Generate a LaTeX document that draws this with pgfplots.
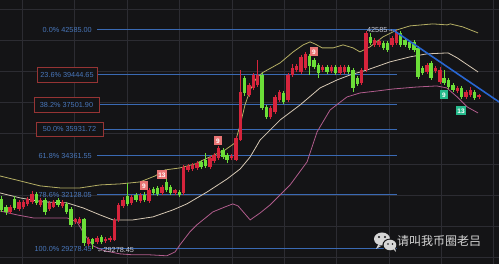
\documentclass[border=0pt]{standalone}
\usepackage{pgfplots}
\usepackage{pgfplotstable}
\pgfplotsset{compat=1.18}
\usepackage{fontspec}
\setmainfont{Liberation Sans}
\newfontfamily\cjk{Noto Sans CJK SC}
\newfontfamily\djv{DejaVu Sans}
\definecolor{bg}{RGB}{20,20,22}
\definecolor{gridc}{RGB}{44,44,50}
\definecolor{fibc}{RGB}{58,106,180}
\definecolor{fibt}{RGB}{72,118,186}
\definecolor{boxr}{RGB}{150,52,52}
\definecolor{upperc}{RGB}{180,174,100}
\definecolor{midc}{RGB}{214,200,180}
\definecolor{lowerc}{RGB}{176,92,140}
\definecolor{trendc}{RGB}{40,102,210}
\definecolor{upc}{RGB}{214,36,60}
\definecolor{downc}{RGB}{108,222,56}
\definecolor{tdred}{RGB}{232,116,116}
\definecolor{tdgreen}{RGB}{38,186,140}
\definecolor{lbl}{RGB}{200,200,208}
\definecolor{wm}{RGB}{214,214,214}

\pgfplotstableread{
i o h l c
0 31895 32060 31194 31300
1 31462 31570 31035 31194
2 31194 31570 31088 31462
3 31895 32060 31300 31408
4 31354 31840 31247 31732
5 31462 31840 31354 31732
6 31624 32005 31516 31895
7 31732 32334 31624 32169
8 32169 32279 31570 31678
9 31570 31950 31462 31840
10 31840 31950 31035 31194
11 31354 31786 31247 31678
12 31462 31840 31408 31732
13 31840 31950 31462 31570
14 31516 31840 31408 31732
15 31624 31732 31088 31194
16 31354 31462 30404 30508
17 30665 30875 30561 30822
18 30613 30929 30561 30822
19 30822 30875 29432 29583
20 29532 29888 29432 29785
21 29785 29836 29278 29532
22 29633 29939 29532 29836
23 29888 29990 29532 29633
24 29684 29888 29583 29785
25 29734 29939 29633 29836
26 29734 30875 29684 30769
27 30769 31678 30665 31570
28 31516 32005 31408 31840
29 32060 32780 31516 31624
30 31678 32115 31570 32005
31 32115 32224 31732 31840
32 31786 32224 31678 32115
33 32115 32279 31732 31840
34 31786 32500 31678 32389
35 32445 32556 32115 32224
36 32500 32612 32060 32169
37 32224 32668 32115 32556
38 32836 33005 32279 32389
39 32556 32668 32115 32224
40 32224 32445 32115 32389
41 32279 32389 32005 32115
42 32224 33806 32115 33690
43 33516 33863 33402 33748
44 33574 33921 33459 33806
45 33632 34037 33516 33921
46 33979 34095 33574 33690
47 34095 34507 33632 33748
48 33690 34330 33574 34213
49 34037 34507 33921 34389
50 34213 34922 34095 34803
51 34683 34803 34154 34271
52 34389 34507 33921 34095
53 34213 34448 34095 34330
54 34095 35525 34037 35403
55 35281 39769 35221 38301
56 39229 39364 38040 38235
57 38105 38895 37975 38763
58 38564 39567 38431 39432
59 38763 40455 38630 39432
60 39432 39567 37139 37267
61 37331 37459 36572 36698
62 36698 37395 36572 37267
63 37013 38105 36887 37975
64 37779 38431 37651 38301
65 38235 38366 37523 37651
66 37779 39567 37651 39432
67 39432 40181 39297 39906
68 39769 40181 39634 40043
69 39634 40804 39499 40664
70 39906 41013 39769 40874
71 40734 40874 39432 40043
72 40455 40595 39838 39975
73 40112 40249 39229 39567
74 39769 40112 39634 39975
75 39975 40112 39499 39634
76 39702 40112 39567 39975
77 39975 40112 39432 39567
78 39567 40112 39432 39975
79 39634 40112 39499 39975
80 39975 40112 39499 39634
81 39769 39906 38301 38564
82 39229 39364 38696 38829
83 38895 39906 38763 39769
84 39769 42513 39634 42368
85 42080 42368 41508 41650
86 41508 42007 41366 41863
87 41508 41935 41366 41792
88 41650 41792 41153 41295
89 41650 41792 41013 41153
90 41508 42152 41366 42007
91 41650 42585 41508 42441
92 42368 42513 41366 41508
93 41863 42007 41366 41508
94 41721 41863 41153 41295
95 41721 41863 41013 41153
96 41295 41437 39162 39297
97 39906 40043 39432 39567
98 39634 40249 39499 40112
99 40249 40386 39094 39229
100 39702 40043 39567 39906
101 38961 39975 38829 39769
102 39229 39769 38763 38895
103 39094 39229 38497 38630
104 38763 38895 38301 38431
105 38366 38696 38235 38564
106 38564 38696 37844 37975
107 37975 38431 37844 38301
108 38105 38630 37975 38431
109 38301 38431 37779 37909
110 37975 38170 37844 38105
}\candles

\pgfplotstableread{
i p
-0.4 33175
4.3 32892
8.9 32612
13.5 32500
18.1 32500
22.7 32668
27.3 32724
31.9 32836
35.4 33175
37.7 33516
41.1 33632
44.6 33863
48.0 34271
51.5 34683
53.8 35102
55.0 36200
56.1 37459
57.3 38431
58.6 39162
60.0 39567
64.2 40249
67.2 41013
69.5 41508
71.1 41721
72.2 41579
73.9 41295
76.4 41295
78.7 41508
81.0 41295
82.6 41013
84.9 41366
87.9 42080
91.1 42585
94.1 42878
99.4 43025
102.7 42951
103.4 43025
106.3 42805
109.8 42368
}\upperband

\pgfplotstableread{
i p
-0.4 32224
4.3 31950
9.6 31732
15.1 31678
18.8 31408
22.7 31035
25.7 30769
30.3 30769
34.9 30929
39.5 31300
42.7 31624
47.4 32279
52.0 33005
55.0 33574
57.3 34271
59.6 35281
61.9 35890
64.2 36509
68.8 37459
73.4 38564
77.3 39094
80.3 39432
84.2 39769
89.5 40318
94.1 40664
98.0 40874
102.9 40944
105.0 40595
109.8 39634
}\midband

\pgfplotstableread{
i p
-0.4 31247
3.6 31035
7.3 30875
15.1 30875
17.4 30665
19.2 29990
21.1 29432
23.8 29182
27.3 29034
30.3 28985
34.2 28985
38.1 28936
40.0 29132
41.1 29482
43.4 30144
45.0 30508
48.7 31194
51.5 31462
53.3 31624
54.5 31516
55.9 31141
57.3 30769
59.6 31141
61.9 31570
66.5 32668
70.4 33979
72.7 35768
75.7 37139
79.6 37975
82.6 38235
86.5 38366
90.2 38497
95.7 38630
100.3 38696
102.6 38564
105.0 37975
107.3 37331
109.8 36950
}\lowerband

\begin{document}
\begin{tikzpicture}
\begin{axis}[
  at={(0,0)}, anchor=south west,
  scale only axis, width=499pt, height=264pt,
  ymode=log,
  xmin=-0.3456, xmax=114.63, ymin=28538, ymax=44827,
  axis background/.style={fill=bg},
  axis line style={draw=none},
  tick style={draw=none},
  xticklabels={}, yticklabels={},
  xtick={4.72,16.82,28.92,41.01,53.11,65.09,77.19,89.29,101.27,113.25},
  ytick={44143,41863,39701,37651,35707,33863,32114,30457,28887},
  minor tick num=0,
  grid=major,
  major grid style={gridc, line width=0.45pt},
  clip=true,
]
% Fibonacci levels
\addplot[fibc, line width=0.9pt, forget plot] coordinates {(22,42585) (91.1,42585)};
\addplot[fibc, line width=0.9pt, forget plot] coordinates {(22,39444.65) (91.1,39444.65)};
\addplot[fibc, line width=0.9pt, forget plot] coordinates {(22,37501.90) (91.1,37501.90)};
\addplot[fibc, line width=0.9pt, forget plot] coordinates {(22,35931.72) (91.1,35931.72)};
\addplot[fibc, line width=0.9pt, forget plot] coordinates {(22,34361.55) (91.1,34361.55)};
\addplot[fibc, line width=0.9pt, forget plot] coordinates {(22,32128.05) (91.1,32128.05)};
\addplot[fibc, line width=0.9pt, forget plot] coordinates {(22,29278.45) (91.1,29278.45)};
% Bollinger bands
\addplot[upperc, line width=0.8pt, forget plot] table[x=i,y=p] {\upperband};
\addplot[midc, line width=0.8pt, forget plot] table[x=i,y=p] {\midband};
\addplot[lowerc, line width=0.8pt, forget plot] table[x=i,y=p] {\lowerband};
% candles
\pgfplotsinvokeforeach{0,...,110}{%
  \pgfplotstablegetelem{#1}{o}\of\candles\edef\co{\pgfplotsretval}%
  \pgfplotstablegetelem{#1}{h}\of\candles\edef\ch{\pgfplotsretval}%
  \pgfplotstablegetelem{#1}{l}\of\candles\edef\cl{\pgfplotsretval}%
  \pgfplotstablegetelem{#1}{c}\of\candles\edef\cc{\pgfplotsretval}%
  \ifnum\cc<\co\relax\def\ccol{downc}\else\def\ccol{upc}\fi
  \edef\temp{\noexpand\addplot[\ccol,line width=0.6pt,forget plot] coordinates {(#1,\cl) (#1,\ch)};%
    \noexpand\addplot[\ccol,line width=3.4pt,forget plot] coordinates {(#1,\co) (#1,\cc)};}%
  \temp
}
% trend line
\addplot[trendc, line width=1.6pt, forget plot] coordinates {(90.2,42585) (114.63,37651)};
\end{axis}

\begin{scope}[x=1pt,y=-1pt,shift={(0pt,264pt)}]
\tikzset{fibl/.style={text=fibt, font=\fontsize{7.3}{8}\selectfont, inner sep=0pt},
         boxl/.style={fibl, draw=boxr, fill=bg, line width=0.7pt},
         tdr/.style={fill=tdred, text=white, font=\fontsize{6.5}{7}\selectfont\bfseries, inner sep=0.8pt, minimum width=8pt, minimum height=9pt},
         tdg/.style={tdr, fill=tdgreen}}
\node[fibl, anchor=east] at (92,30) {0.0\% 42585.00};
\node[boxl, minimum width=60pt, minimum height=15pt] at (67,74.5) {23.6\% 39444.65};
\node[boxl, minimum width=65pt, minimum height=15pt] at (66.5,104.5) {38.2\% 37501.90};
\node[boxl, minimum width=67pt, minimum height=14pt] at (69.5,129) {50.0\% 35931.72};
\node[fibl, anchor=east] at (92,156) {61.8\% 34361.55};
\node[fibl, anchor=east] at (92,195) {78.6\% 32128.05};
\node[fibl, anchor=east] at (92,249) {100.0\% 29278.45};
\node[text=lbl, font=\fontsize{7.3}{8}\selectfont, inner sep=0pt, anchor=east] at (393,30) {42585\,{\djv\fontsize{5}{6}\selectfont →}};
\node[text=lbl, font=\fontsize{7.3}{8}\selectfont, inner sep=0pt, anchor=west] at (98,250) {{\djv\fontsize{5}{6}\selectfont ←}\,29278.45};
\node[tdr] at (144,186) {9};
\node[tdr, minimum width=10pt] at (162,175) {13};
\node[tdr] at (218,141) {9};
\node[tdr] at (314,52) {9};
\node[tdg] at (444,95) {9};
\node[tdg, minimum width=10pt] at (461,111) {13};
% watermark
\fill[wm] (382,239) ellipse (8pt and 6.5pt);
\fill[wm] (378,245) -- (376,249) -- (381,246) -- cycle;
\fill[bg] (390,245) ellipse (7.6pt and 6.4pt);
\fill[wm] (390,245) ellipse (6.3pt and 5.3pt);
\fill[wm] (393,249) -- (396,252) -- (395,248) -- cycle;
\fill[bg] (379,237) circle (1.1pt);
\fill[bg] (385,237) circle (1.1pt);
\fill[bg] (388,244) circle (0.8pt);
\fill[bg] (392.5,244) circle (0.8pt);
\node[text=wm, font=\cjk\fontsize{12}{13}\selectfont, inner sep=0pt, anchor=west] at (397,241) {请叫我币圈老吕};
\end{scope}
\pgfresetboundingbox
\path[use as bounding box] (0,0) rectangle (499pt,264pt);
\end{tikzpicture}
\end{document}
